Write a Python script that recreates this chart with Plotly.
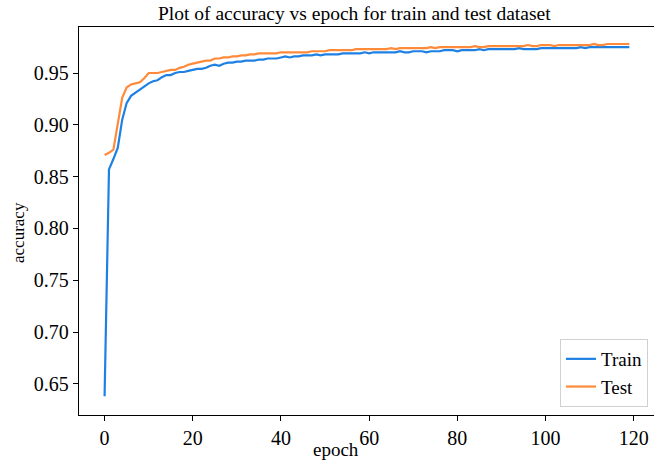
import plotly.graph_objects as go

epochs = list(range(120))

train_acc = [
    0.638, 0.857, 0.867, 0.878, 0.905, 0.921, 0.928, 0.931, 0.934, 0.937,
    0.940, 0.942, 0.943, 0.946, 0.948, 0.948, 0.950, 0.951, 0.951, 0.952,
    0.953, 0.954, 0.954, 0.955, 0.957, 0.958, 0.957, 0.959, 0.960, 0.960,
    0.961, 0.961, 0.962, 0.962, 0.962, 0.963, 0.963, 0.964, 0.964, 0.964,
    0.965, 0.966, 0.965, 0.966, 0.966, 0.967, 0.967, 0.967, 0.968, 0.967,
    0.968, 0.968, 0.968, 0.968, 0.969, 0.969, 0.969, 0.969, 0.969, 0.970,
    0.969, 0.970, 0.970, 0.970, 0.970, 0.970, 0.970, 0.971, 0.970, 0.970,
    0.971, 0.971, 0.971, 0.970, 0.971, 0.971, 0.971, 0.972, 0.972, 0.972,
    0.971, 0.972, 0.972, 0.972, 0.972, 0.973, 0.972, 0.973, 0.973, 0.973,
    0.973, 0.973, 0.973, 0.973, 0.974, 0.973, 0.973, 0.973, 0.973, 0.974,
    0.974, 0.974, 0.974, 0.974, 0.974, 0.974, 0.974, 0.974, 0.975, 0.974,
    0.975, 0.975, 0.975, 0.975, 0.975, 0.975, 0.975, 0.975, 0.975, 0.975,
]

test_acc = [
    0.871, 0.873, 0.876, 0.900, 0.926, 0.936, 0.939, 0.940, 0.941, 0.945,
    0.950, 0.950, 0.950, 0.951, 0.952, 0.953, 0.953, 0.955, 0.956, 0.958,
    0.959, 0.960, 0.961, 0.962, 0.962, 0.964, 0.964, 0.965, 0.965, 0.966,
    0.966, 0.967, 0.967, 0.968, 0.968, 0.969, 0.969, 0.969, 0.969, 0.969,
    0.970, 0.970, 0.970, 0.970, 0.970, 0.970, 0.970, 0.971, 0.971, 0.971,
    0.971, 0.972, 0.972, 0.972, 0.972, 0.972, 0.972, 0.973, 0.973, 0.973,
    0.973, 0.973, 0.973, 0.973, 0.973, 0.974, 0.973, 0.974, 0.974, 0.974,
    0.974, 0.974, 0.974, 0.974, 0.975, 0.974, 0.975, 0.975, 0.975, 0.975,
    0.975, 0.975, 0.975, 0.975, 0.976, 0.975, 0.975, 0.976, 0.976, 0.976,
    0.976, 0.976, 0.976, 0.976, 0.976, 0.976, 0.977, 0.976, 0.976, 0.977,
    0.977, 0.977, 0.976, 0.977, 0.977, 0.977, 0.977, 0.977, 0.977, 0.977,
    0.977, 0.978, 0.977, 0.977, 0.978, 0.978, 0.978, 0.978, 0.978, 0.978,
]

x_ticks = [0, 20, 40, 60, 80, 100, 120]
y_ticks = [0.65, 0.70, 0.75, 0.80, 0.85, 0.90, 0.95]
y_tick_text = ["0.65", "0.70", "0.75", "0.80", "0.85", "0.90", "0.95"]

FONT = "Liberation Serif"
W, H = 654, 462

fig = go.Figure()
fig.add_trace(go.Scatter(x=epochs, y=train_acc, mode="lines", name="Train",
                         line=dict(color="#1f80e3", width=2.2)))
fig.add_trace(go.Scatter(x=epochs, y=test_acc, mode="lines", name="Test",
                         line=dict(color="#ff8a3a", width=2.2)))

# title and axis labels placed in pixel terms via paper coordinates
fig.add_annotation(text="Plot of accuracy vs epoch for train and test dataset",
                   xref="paper", yref="paper", showarrow=False,
                   x=(354.5 - 79) / (W - 79), y=(415 - 14) / (415 - 27),
                   xanchor="center", yanchor="middle",
                   font=dict(family=FONT, size=19.5, color="black"))
fig.add_annotation(text="epoch", xref="paper", yref="paper", showarrow=False,
                   x=(335.5 - 79) / (W - 79), y=(415 - 450) / (415 - 27),
                   xanchor="center", yanchor="middle",
                   font=dict(family=FONT, size=19, color="black"))
fig.add_annotation(text="accuracy", xref="paper", yref="paper", showarrow=False,
                   x=(18 - 79) / (W - 79), y=(415 - 233) / (415 - 27),
                   xanchor="center", yanchor="middle", textangle=-90,
                   font=dict(family=FONT, size=17, color="black"))

fig.update_layout(
    width=W, height=H,
    margin=dict(l=79, r=0, t=27, b=47),
    paper_bgcolor="white", plot_bgcolor="white",
    font=dict(family=FONT, color="black", size=19),
    legend=dict(x=(648 - 79) / (W - 79), y=(415 - 407) / (415 - 27),
                xanchor="right", yanchor="bottom",
                bgcolor="rgba(255,255,255,0.9)", bordercolor="#d0d0d0",
                borderwidth=1, font=dict(family=FONT, size=19),
                itemwidth=30, tracegroupgap=0),
    showlegend=True,
)

fig.update_xaxes(
    range=[-5.8, 124.6], tickvals=x_ticks,
    showgrid=False, zeroline=False,
    showline=True, linecolor="black", linewidth=1.3, mirror=True,
    ticks="outside", ticklen=5, tickwidth=1.2, tickcolor="black",
    tickfont=dict(family=FONT, size=20, color="black"),
)
fig.update_yaxes(
    range=[0.620, 0.9944], tickvals=y_ticks, ticktext=y_tick_text,
    showgrid=False, zeroline=False,
    showline=True, linecolor="black", linewidth=1.3, mirror=False,
    ticks="outside", ticklen=5, tickwidth=1.2, tickcolor="black",
    tickfont=dict(family=FONT, size=20, color="black"),
)

fig.write_html("out.html")
